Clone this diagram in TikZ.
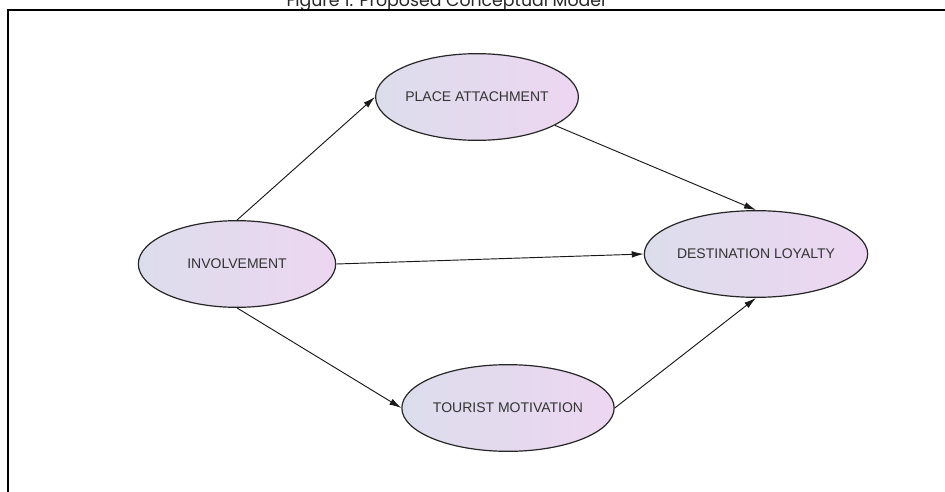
\documentclass[tikz,border=0pt]{standalone}
\usepackage{fontspec}
\setmainfont{Liberation Sans}
\newfontfamily\titlefont{Poppins}
\usetikzlibrary{shapes.geometric,arrows.meta}
\definecolor{ellleft}{HTML}{DCDDEC}
\definecolor{ellright}{HTML}{EDD6F1}
\definecolor{labelgray}{HTML}{333333}
\tikzset{construct/.style={ellipse, draw=black!85, line width=0.9pt, left color=ellleft, right color=ellright,
  minimum width=148pt, minimum height=65pt, inner sep=0pt, text=labelgray, font=\fontsize{10.5}{12}\selectfont},
%thin connector with a filled head
path/.style={draw=black!90, line width=0.7pt, -{Latex[length=9pt,width=5pt]}}}

\begin{document}
\begin{tikzpicture}[x=0.75pt,y=-0.75pt]

    \clip (0,0) rectangle (945,492);
    \useasboundingbox (0,0) rectangle (945,492);
    \fill[white] (0,0) rectangle (945,492);

    \node[font=\titlefont\fontsize{13}{15}\selectfont, anchor=base, text=black!85] (title) at (446,7) {Figure 1: Proposed Conceptual Model};
    \draw[line width=1.6pt] (8,520) -- (8,10) -- (960,10);

    \node[construct] (inv) at (237,264) {INVOLVEMENT};
    \node[construct] (pa)  at (477,97)  {PLACE ATTACHMENT};
    \node[construct] (dl)  at (756,254) {DESTINATION LOYALTY};
    \node[construct] (tm)  at (508,408) {TOURIST MOTIVATION};

    \draw[path] (inv.north) -- (pa.west);
    \draw[path] (pa.-20) -- (dl.north);
    \draw[path] (inv.east) -- (dl.west);
    \draw[path] (inv.south) -- (tm.west);
    \draw[path] (tm.east) -- (dl.south);

  \end{tikzpicture}
\end{document}
